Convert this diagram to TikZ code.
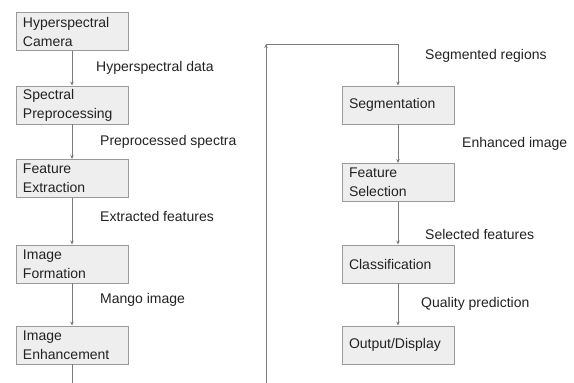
\documentclass[tikz,border=0pt]{standalone}
\usepackage{fontspec}
\setmainfont{Liberation Sans}
\usetikzlibrary{arrows.meta}
\definecolor{boxfill}{HTML}{EEEEEE}
\definecolor{boxline}{HTML}{9A9A9A}
\definecolor{conn}{HTML}{7A7A7A}
\definecolor{txt}{HTML}{222222}
\tikzset{
  stepbox/.style={draw=boxline, fill=boxfill, line width=0.9pt, rectangle,
    minimum width=112pt, minimum height=38pt, text width=98pt, inner xsep=7pt,
    inner ysep=0pt, align=left, text=txt, font=\fontsize{14}{19}\selectfont},
  lbl/.style={anchor=west, text=txt, inner sep=0pt, font=\fontsize{14}{17}\selectfont},
  conn/.style={draw=conn, line width=0.8pt},
  arr/.style={conn, -{Stealth[length=4pt,width=3.5pt]}}
}
\begin{document}
\begin{tikzpicture}[x=1pt,y=-1pt]
\useasboundingbox (0,0) rectangle (574,383);
% left column
\node[stepbox] (cam) at (72,31.5) {Hyperspectral\\Camera};
\node[stepbox] (pre) at (72,105) {Spectral\\Preprocessing};
\node[stepbox] (fex) at (72,178.5) {Feature\\Extraction};
\node[stepbox] (imf) at (72,264) {Image\\Formation};
\node[stepbox] (ime) at (72,345) {Image\\Enhancement};
% right column
\node[stepbox] (seg) at (398,105) {Segmentation};
\node[stepbox] (fsel) at (398,182.5) {Feature\\Selection};
\node[stepbox] (cls) at (398,264) {Classification};
\node[stepbox] (out) at (398,345) {Output/Display};
% labels
\node[lbl] (l1) at (96,68) {Hyperspectral data};
\node[lbl] (l2) at (100,142) {Preprocessed spectra};
\node[lbl] (l3) at (100,216) {Extracted features};
\node[lbl] (l4) at (100,300) {Mango image};
\node[lbl] (l5) at (425,56) {Segmented regions};
\node[lbl] (l6) at (462,144) {Enhanced image};
\node[lbl] (l7) at (425,234) {Selected features};
\node[lbl] (l8) at (421,304) {Quality prediction};
% connectors
\draw[arr] (cam) -- (pre);
\draw[arr] (pre) -- (fex);
\draw[arr] (fex) -- (imf);
\draw[arr] (imf) -- (ime);
\coordinate (endL) at (72,383);
\draw[conn] (ime) -- (endL);
\coordinate (startR) at (266,383);
\coordinate (corner) at (266,44);
\draw[arr] (startR) -- (corner);
\draw[arr] (corner) -| (seg.north);
\draw[arr] (seg) -- (fsel);
\draw[arr] (fsel) -- (cls);
\draw[arr] (cls) -- (out);
\end{tikzpicture}
\end{document}
